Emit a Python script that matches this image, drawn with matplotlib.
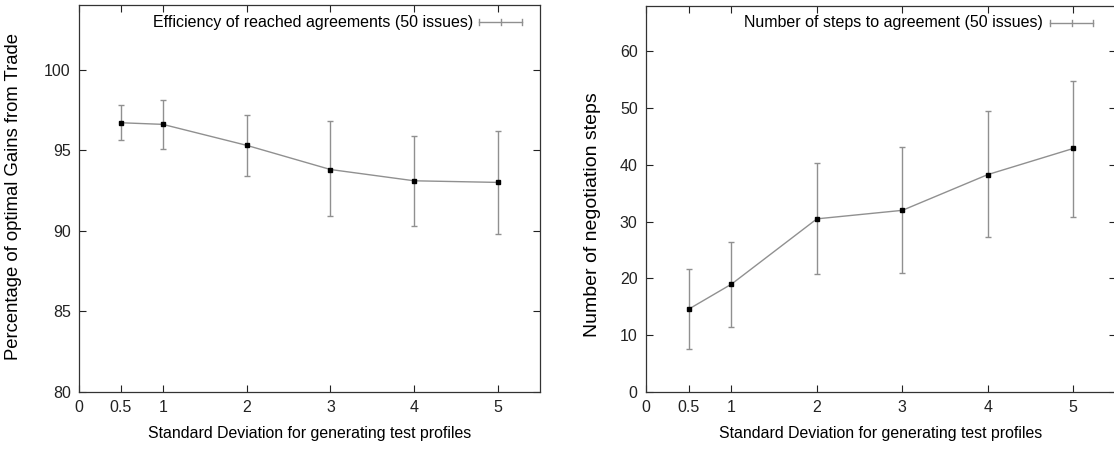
"""
Negotiation experiments: efficiency and number of steps vs. profile standard deviation
"""

import matplotlib
matplotlib.use("Agg")
import matplotlib.pyplot as plt

plt.rcParams['font.family'] = ['Liberation Sans', 'DejaVu Sans']
plt.rcParams['font.size'] = 11

# standard deviations used for generating test profiles
std_dev = [0.5, 1, 2, 3, 4, 5]

# efficiency of reached agreements (% of optimal gains from trade)
eff_mean = [96.7, 96.6, 95.3, 93.8, 93.1, 93.0]
eff_low = [95.6, 95.1, 93.4, 90.9, 90.3, 89.8]
eff_high = [97.8, 98.1, 97.2, 96.8, 95.9, 96.2]

# number of negotiation steps to agreement
steps_mean = [14.6, 19.0, 30.5, 32.0, 38.3, 42.9]
steps_low = [7.6, 11.5, 20.7, 20.9, 27.3, 30.8]
steps_high = [21.6, 26.4, 40.4, 43.2, 49.5, 54.8]

x_ticks = [0, 0.5, 1, 2, 3, 4, 5]

LINE = '#909090'


def draw_panel(ax, mean, low, high, ylim, yticks, ylabel, ylabel_size, ylabel_xy,
               legend_text, key_text_end, key_x0, key_x1):
    yerr = [[m - l for m, l in zip(mean, low)], [h - m for m, h in zip(mean, high)]]
    ax.errorbar(std_dev, mean, yerr=yerr, color=LINE, ecolor=LINE, lw=1.0,
                elinewidth=1.0, capsize=2.5, capthick=1.0,
                marker='s', ms=3.5, mfc='black', mec='black', zorder=3)

    ax.set_xlim(0, 5.5)
    ax.set_ylim(*ylim)
    ax.set_xticks(x_ticks)
    ax.set_xticklabels(['0', '0.5', '1', '2', '3', '4', '5'])
    ax.set_yticks(yticks)
    ax.tick_params(direction='in', length=5, width=0.8, top=True, right=True,
                   labelsize=11.5, pad=6, colors='#222222')
    for s in ax.spines.values():
        s.set_color('#333333')
        s.set_linewidth(0.9)

    ax.set_xlabel('Standard Deviation for generating test profiles', fontsize=11.4, labelpad=8)
    ax.set_ylabel(ylabel, fontsize=ylabel_size, va='center')
    ax.yaxis.set_label_coords(*ylabel_xy)

    # gnuplot-style key in the top right corner
    ky = 0.956
    ax.text(key_text_end, ky, legend_text, transform=ax.transAxes, ha='right', va='center',
            fontsize=11.5)
    ax.plot([key_x0, key_x1], [ky, ky], transform=ax.transAxes, color=LINE, lw=1.0)
    for kx in (key_x0, (key_x0 + key_x1) / 2, key_x1):
        ax.plot([kx, kx], [ky - 0.008, ky + 0.008], transform=ax.transAxes,
                color=LINE, lw=1.0)


fig = plt.figure(figsize=(11.14, 4.51), dpi=100)
ax1 = fig.add_axes([0.0709, 0.1308, 0.4138, 0.858])
ax2 = fig.add_axes([0.5799, 0.1308, 0.4219, 0.856])

draw_panel(ax1, eff_mean, eff_low, eff_high, (80, 104), [80, 85, 90, 95, 100],
           'Percentage of optimal Gains from Trade', 13.3, (-0.141, 0.504),
           'Efficiency of reached agreements (50 issues)', 0.855, 0.868, 0.961)
draw_panel(ax2, steps_mean, steps_low, steps_high, (0, 68), [0, 10, 20, 30, 40, 50, 60],
           'Number of negotiation steps', 14, (-0.113, 0.46),
           'Number of steps to agreement (50 issues)', 0.844, 0.859, 0.952)

fig.savefig('out.png', dpi=100)
